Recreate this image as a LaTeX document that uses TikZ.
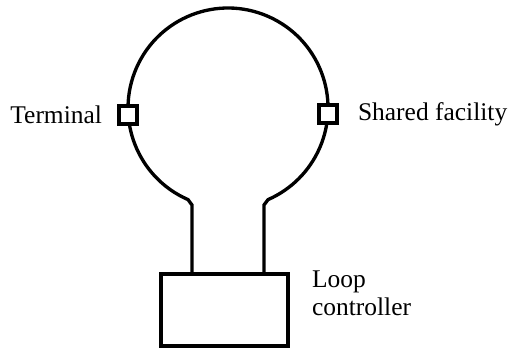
\documentclass[tikz,border=0pt]{standalone}
\usepackage{fontspec}
\setmainfont{Liberation Serif}
\newfontfamily\lblfont{Liberation Serif}
\usetikzlibrary{positioning,calc}

\begin{document}
\begin{tikzpicture}[
		x=0.02cm, y=-0.02cm,
		font=\lblfont\fontsize{14.5}{16}\selectfont,
		tap/.style={draw, line width=1.9pt, fill=white, minimum size=0.36cm, inner sep=0pt},
		ctrlbox/.style={draw, line width=1.9pt, minimum width=2.54cm, minimum height=1.44cm, inner sep=0pt},
		lbl/.style={inner sep=0pt, align=left},
		ring/.style={line width=1.9pt}
	]
	\useasboundingbox (0,0) rectangle (510,349);

	% loop and its neck
	\coordinate (bendL) at (188,199.6);
	\coordinate (bendR) at (268,199.6);
	\coordinate (neckL) at (192,205);
	\coordinate (neckR) at (264,205);
	\node[ctrlbox] (ctrl) at (224.5,310) {};

	\draw[ring] (ctrl.north -| neckL) -- (neckL) -- (bendL)
		arc[start angle=246.4, end angle=-66.4, radius=2cm] -- (neckR) -- (ctrl.north -| neckR);

	% attachments on the loop
	\node[tap] (term) at (128,115) {};
	\node[tap] (shared) at (328,114) {};

	\node[lbl, left=0.3cm of term] (termlbl) {Terminal};
	\node[lbl, right=0.38cm of shared] (sharedlbl) {Shared facility};
	\node[lbl, anchor=north west] (ctrllbl) at ($(ctrl.north east)+(22,-2)$) {Loop\\controller};
\end{tikzpicture}
\end{document}
